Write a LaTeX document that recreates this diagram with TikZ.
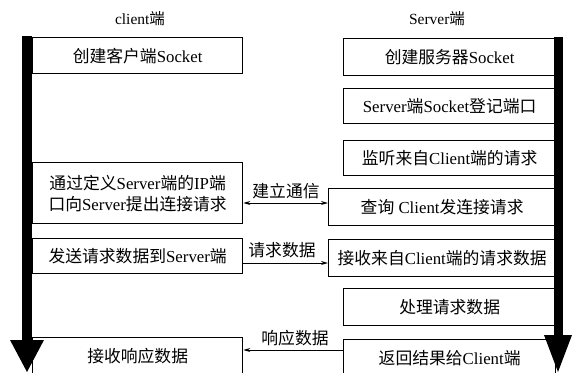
\documentclass[tikz,border=0pt]{standalone}
\usepackage{fontspec}
\setmainfont{Liberation Serif}
\newfontfamily\cjk{Noto Sans CJK SC}
\usetikzlibrary{arrows.meta}
\tikzset{
  box/.style={draw, line width=1.3pt, inner sep=0pt, anchor=north west, align=center,
    font=\fontsize{16.8}{21}\selectfont},
  lbl/.style={font=\fontsize{16.8}{20}\selectfont, inner sep=1pt},
  hdr/.style={font=\fontsize{15.5}{18}\selectfont, inner sep=1pt},
  conn/.style={line width=1pt, -{Stealth[length=7pt,width=4pt]}},
  bar/.style={fill=black}
}
\newcommand\mybox[6]{\node[box, minimum width=#4pt, minimum height=#5pt] (#1) at (#2,-#3) {#6};}
\begin{document}
\begin{tikzpicture}[x=1pt,y=1pt]
\useasboundingbox (0,0) rectangle (577,-372);
% headers
\node[hdr] (hc) at (140,-19) {client{\cjk 端}};
\node[hdr] (hs) at (437,-19) {Server{\cjk 端}};
% client boxes
\mybox{c1}{32}{37}{210}{36}{{\cjk 创建客户端}Socket}
\mybox{c2}{32}{162}{210}{61}{{\cjk 通过定义}Server{\cjk 端的}IP{\cjk 端}\\{\cjk 口向}Server{\cjk 提出连接请求}}
\mybox{c3}{32}{238}{210}{35}{{\cjk 发送请求数据到}Server{\cjk 端}}
\mybox{c4}{32}{337}{210}{37}{{\cjk 接收响应数据}}
% server boxes
\mybox{s1}{343}{38}{212}{37}{{\cjk 创建服务器}Socket}
\mybox{s2}{343}{88}{212}{35}{Server{\cjk 端}Socket{\cjk 登记端口}}
\mybox{s3}{343}{140}{212}{35}{{\cjk 监听来自}Client{\cjk 端的请求}}
\mybox{s4}{328}{188}{227}{37}{{\cjk 查询} Client{\cjk 发连接请求}}
\mybox{s5}{328}{239}{227}{37}{{\cjk 接收来自}Client{\cjk 端的请求数据}}
\mybox{s6}{343}{288}{212}{37}{{\cjk 处理请求数据}}
\mybox{s7}{343}{339}{212}{37}{{\cjk 返回结果给}Client{\cjk 端}}
% time bars
\fill[bar] (22,-36) rectangle (32,-341);
\fill[bar] (10,-340) -- (44,-340) -- (27,-372) -- cycle;
\fill[bar] (553.5,-37) rectangle (562.5,-336);
\fill[bar] (544,-335) -- (572,-335) -- (558,-372) -- cycle;
% messages
\draw[conn, {Stealth[length=7pt,width=4pt]}-{Stealth[length=7pt,width=4pt]}] (c2.east |- 0,-203) -- (s4.west |- 0,-203);
\node[lbl] (l1) at (286,-191) {{\cjk 建立通信}};
\draw[conn] (c3.east |- 0,-263) -- (s5.west |- 0,-263);
\node[lbl] (l2) at (282,-250) {{\cjk 请求数据}};
\draw[conn] (s7.west |- 0,-350) -- (c4.east |- 0,-350);
\node[lbl] (l3) at (295,-338) {{\cjk 响应数据}};
\end{tikzpicture}
\end{document}
